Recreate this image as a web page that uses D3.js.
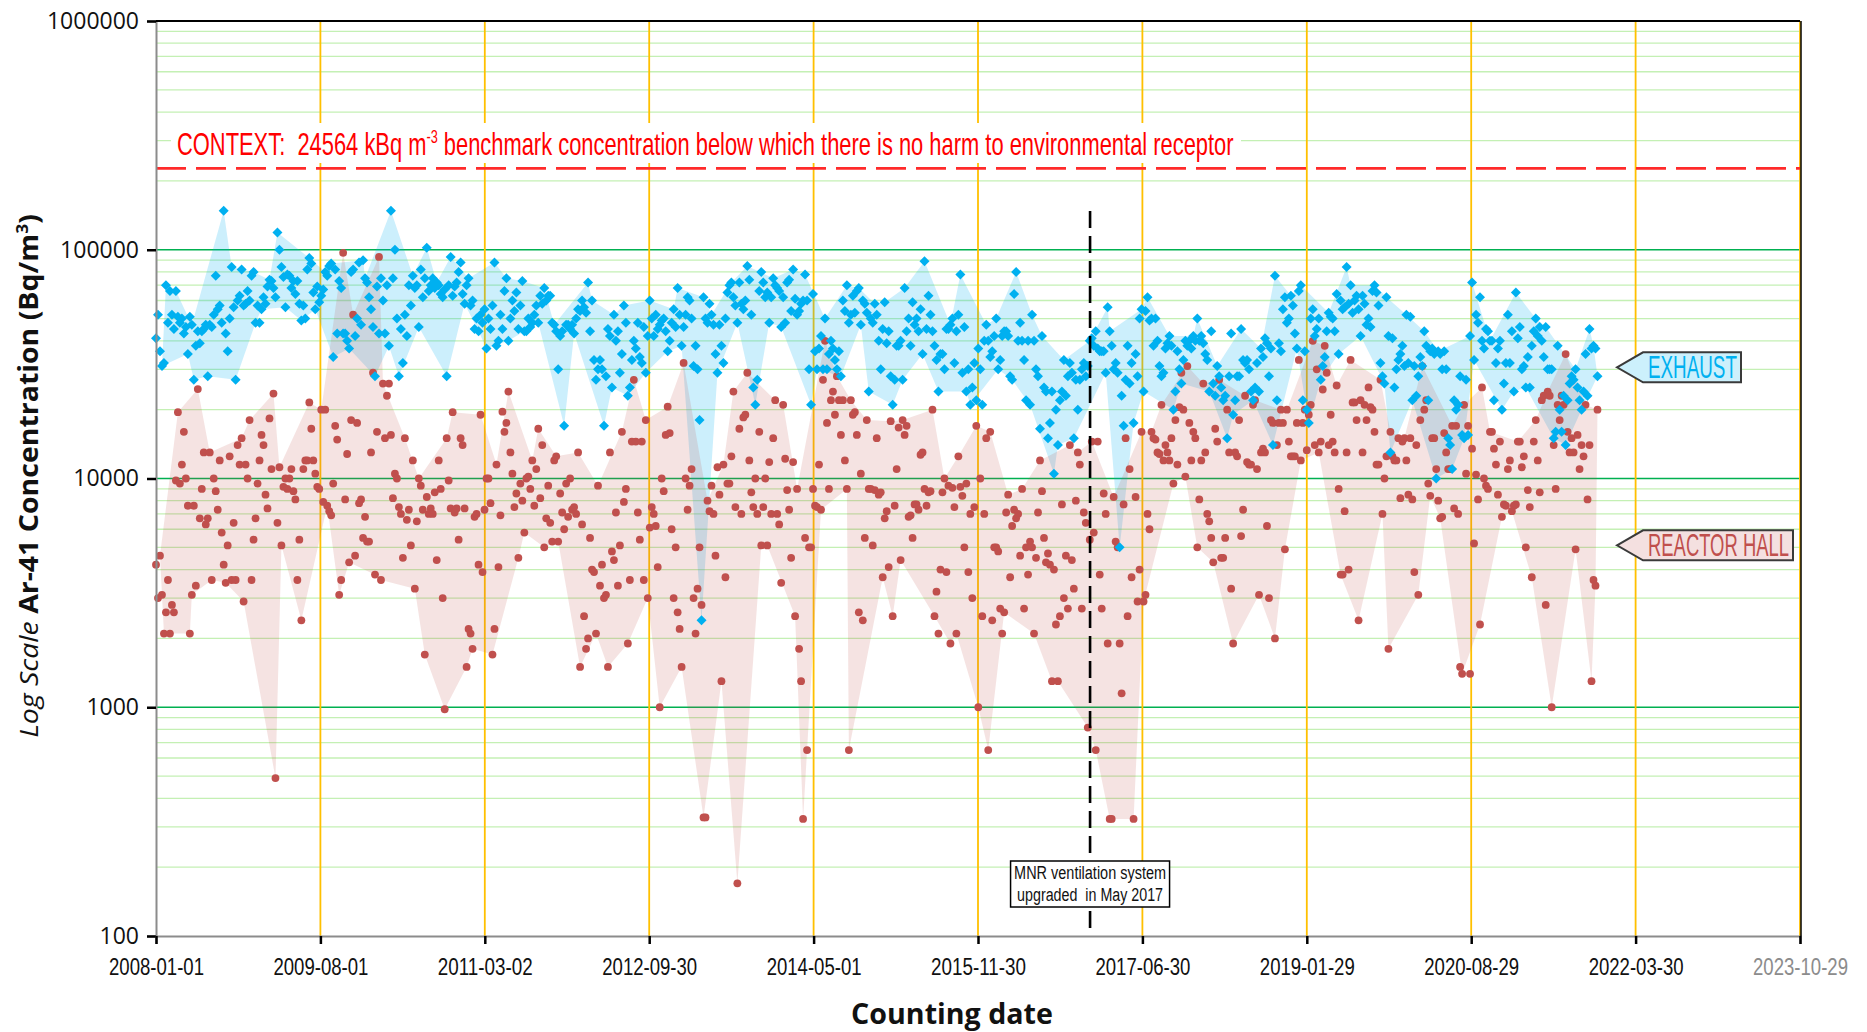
<!DOCTYPE html>
<html>
<head>
<meta charset="utf-8">
<script src="https://cdn.jsdelivr.net/npm/d3@7"></script>
<style>
  body { margin: 0; background: #fff; }
  svg { display: block; }
  text { white-space: pre; }
</style>
</head>
<body>
<div id="chart"></div>
<script>
/* global d3 */

const WIDTH = 1867
const HEIGHT = 1032
const MARGIN = { left: 156, right: 67, top: 21, bottom: 96 }

// x axis tick labels (every 578 days)
const xTickLabels = ['2008-01-01', '2009-08-01', '2011-03-02', '2012-09-30', '2014-05-01',
  '2015-11-30', '2017-06-30', '2019-01-29', '2020-08-29', '2022-03-30', '2023-10-29']
const yDecades = [100, 1000, 10000, 100000, 1000000]

// weekly counts, first one on this date
const firstCount = '2008-01-01'
const countEveryDays = 7

const benchmarkBq = 227000
const upgradeDate = '2016-12-28'
const envelopeMonths = 2

// Ar-41 exhaust concentration, Bq/m3, one value per weekly count
const exhaustBq = [
  // 2008-01 .. 2009-12
  41000, 52000, 36000, 31000, 32000, 70000, 48000, 66000, 52000, 45000,
  66000, 51000, 48000, 50000, 43000, 46000, 35000, 51000, 47000, 27000,
  38000, 44000, 39000, 44000, 45000, 47000, 28000, 47000, 46000, 52000,
  77000, 55000, 57000, 48000, 148000, 43000, 36000, 50000, 84000, 56000,
  27000, 60000, 63000, 82000, 57000, 58000, 66000, 60000, 77000, 80000,
  48000, 57000, 48000, 55000, 62000, 58000, 69000, 74000, 73000, 68000,
  62000, 119000, 100000, 84000, 76000, 56000, 78000, 77000, 68000, 73000,
  64000, 73000, 58000, 49000, 57000, 50000, 82000, 92000, 87000, 65000,
  55000, 69000, 59000, 63000, 67000, 80000, 77000, 85000, 87000, 34000,
  82000, 43000, 73000, 68000, 43000, 43000, 40000, 37000, 80000, 82000,
  42000, 50000, 88000,
  // 2009-12 .. 2011-12
  47000, 90000, 75000, 72000, 62000, 55000, 46000, 28000, 69000, 43000,
  75000, 60000, 43000, 70000, 38000, 148000, 75000, 100000, 50000, 28000,
  45000, 32000, 52000, 42000, 70000, 57000, 77000, 68000, 70000, 46000,
  82000, 62000, 75000, 102000, 66000, 70000, 75000, 68000, 72000, 70000,
  64000, 62000, 67000, 28000, 70000, 93000, 63000, 69000, 72000, 80000,
  88000, 64000, 58000, 70000, 75000, 57000, 60000, 45000, 50000, 44000,
  52000, 48000, 55000, 37000, 50000, 45000, 57000, 88000, 38000, 40000,
  52000, 45000, 66000, 75000, 40000, 50000, 60000, 54000, 65000, 45000,
  57000, 73000, 44000, 44000, 50000, 46000, 48000, 52000, 57000, 48000,
  63000, 58000, 68000, 60000, 63000, 63000, 48000, 47000, 44000, 30000,
  42000, 44000, 17000, 47000, 47000,
  // 2011-12 .. 2013-12
  45000, 47000, 43000, 50000, 55000, 54000, 60000, 56000, 53000, 72000,
  44000, 60000, 33000, 27000, 30000, 33000, 30000, 17000, 28000, 45000,
  42000, 25000, 52000, 40000, 44000, 29000, 35000, 57000, 48000, 23000,
  25000, 33000, 40000, 37000, 48000, 34000, 32000, 46000, 29000, 42000,
  60000, 50000, 42000, 52000, 45000, 47000, 49000, 50000, 44000, 36000,
  40000, 48000, 55000, 46000, 68000, 52000, 38000, 46000, 52000, 62000,
  60000, 50000, 31000, 38000, 30000, 18000, 2400, 62000, 50000, 48000,
  58000, 52000, 47000, 35000, 29000, 47000, 38000, 32000, 50000, 65000,
  70000, 72000, 62000, 57000, 48000, 72000, 58000, 55000, 60000, 85000,
  74000, 52000, 25000, 21000, 27000, 66000, 80000, 72000, 62000, 65000,
  48000, 62000, 75000, 70000, 68000,
  // 2013-12 .. 2015-12
  66000, 46000, 62000, 48000, 72000, 74000, 54000, 82000, 61000, 52000,
  54000, 58000, 60000, 78000, 60000, 30000, 21000, 64000, 36000, 30000,
  37000, 42000, 30000, 50000, 30000, 35000, 40000, 37000, 33000, 30000,
  36000, 28000, 60000, 54000, 70000, 48000, 52000, 63000, 53000, 66000,
  68000, 47000, 60000, 58000, 53000, 24000, 50000, 48000, 58000, 52000,
  40000, 30000, 45000, 59000, 39000, 44000, 28000, 21000, 27000, 38000,
  38000, 40000, 27000, 68000, 44000, 50000, 38000, 59000, 47000, 50000,
  44000, 55000, 35000, 89000, 45000, 63000, 52000, 44000, 38000, 33000,
  24000, 35000, 35000, 30000, 45000, 45000, 47000, 50000, 32000, 44000,
  52000, 78000, 29000, 46000, 24000, 30000, 21000, 25000, 32000, 22000,
  37000, 30000, 21000, 40000, 47000,
  // 2015-12 .. 2017-12
  40000, 34000, 36000, 42000, 50000, 30000, 33000, 42000, 44000, 44000,
  42000, 28000, 27000, 64000, 80000, 40000, 48000, 40000, 33000, 22000,
  40000, 21000, 52000, 40000, 30000, 28000, 16500, 42000, 25000, 24000,
  15000, 17500, 24000, 10500, 20000, 14000, 22000, 24000, 33000, 23000,
  28000, 32000, 29000, 15000, 27000, 20000, 27000, 30000, 32000, 28000,
  31000, 40000, 41000, 38000, 44000, 37000, 36000, 36000, 36000, 29000,
  56000, 44000, 38000, 30000, 32000, 29000, 5000, 23000, 17000, 27000,
  38000, 26000, 32000, 17500, 35000, 28000, 50000, 55000, 24000, 54000,
  62000, 49000, 50000, 38000, 50000, 40000, 31000, 28000, 29000, 37000,
  39000, 42000, 38000, 20000, 24000, 36000, 30000, 26000, 33000, 40000,
  38000, 40000, 37000, 42000, 40000,
  // 2017-12 .. 2020-01
  50000, 40000, 42000, 39000, 35000, 33000, 24000, 44000, 26000, 23000,
  31000, 28000, 25000, 22000, 23000, 15000, 28000, 43000, 19000, 22000,
  28000, 28000, 45000, 33000, 32000, 33000, 30000, 24000, 22000, 25000,
  32000, 24000, 37000, 34000, 41000, 39000, 28000, 37000, 14000, 77000,
  22000, 39000, 36000, 55000, 62000, 48000, 50000, 63000, 57000, 43000,
  37000, 66000, 70000, 22000, 36000, 20000, 17500, 50000, 55000, 42000,
  45000, 50000, 27000, 31000, 34000, 44000, 53000, 51000, 50000, 44000,
  64000, 35000, 60000, 55000, 56000, 84000, 58000, 70000, 53000, 60000,
  63000, 55000, 42000, 63000, 58000, 47000, 50000, 46000, 66000, 70000,
  65000, 57000, 32000, 28000, 26000, 62000, 42000, 13000, 41000, 25000,
  30000, 33000, 35000, 38000, 31000,
  // 2020-01 .. 2021-11
  52000, 32000, 51000, 22000, 31000, 23000, 28000, 34000, 31000, 44000,
  38000, 22000, 36000, 37000, 35000, 10000, 36000, 35000, 30000, 36000,
  30000, 15000, 14000, 11000, 22000, 20000, 21000, 28000, 15500, 15000,
  27000, 15500, 42000, 72000, 33000, 52000, 48000, 62000, 40000, 37000,
  45000, 44000, 40000, 40000, 22000, 32000, 37000, 40000, 20000, 26000,
  32000, 52000, 32000, 44000, 24000, 65000, 41000, 46000, 30000, 31000,
  25000, 34000, 25000, 38000, 44000, 50000, 42000, 46000, 40000, 34000,
  46000, 30000, 30000, 30000, 15000, 16000, 38000, 20000, 16000, 23000,
  14000, 22000, 26000, 28000, 27000, 30000, 25000, 22000, 20000, 24000,
  35000, 23000, 45000, 37000, 38000, 37000, 28000
]

// Ar-41 reactor hall concentration, Bq/m3, same weekly counts
const reactorHallBq = [
  // 2008-01 .. 2009-12
  4200, 3000, 4600, 3100, 2100, 2600, 3600, 2100, 2800, 2600,
  9800, 19500, 9500, 11500, 16000, 10000, 7600, 2100, 3100, 7600,
  3400, 24600, 6700, 9000, 13000, 6300, 6700, 13000, 3600, 10000,
  8800, 7300, 12000, 5800, 4200, 3500, 5100, 12500, 3600, 6400,
  3600, 14000, 11500, 15000, 2900, 11500, 10000, 18000, 3600, 5400,
  6700, 9500, 12000, 15500, 14000, 8500, 7400, 18300, 11000, 23500,
  490, 6400, 11200, 5100, 9200, 10000, 9000, 10000, 11000, 8800,
  8100, 3600, 5400, 2400, 11000, 12000, 12000, 21500, 16500, 12000,
  10500, 9200, 9000, 20000, 7900, 20000, 7600, 7200, 6900, 9500,
  17000, 14800, 3100, 3600, 97000, 8100, 12800, 4300, 18000, 52000,
  4600, 17500, 7800,
  // 2009-12 .. 2011-12
  8100, 5500, 6800, 5300, 5300, 13000, 29000, 3800, 16000, 93000,
  3600, 26000, 15000, 23000, 26000, 15500, 8200, 10500, 10000, 7500,
  7000, 4500, 15000, 6600, 7300, 5100, 12000, 3300, 6500, 10000,
  9300, 7300, 1700, 8300, 7000, 7400, 7000, 8700, 4400, 12000,
  9000, 3000, 980, 15000, 9800, 7400, 19500, 7100, 7400, 5400,
  15000, 14000, 7400, 1500, 2200, 2100, 1800, 6800, 7000, 4200,
  19000, 3900, 7300, 10000, 10000, 7800, 1700, 2200, 11500, 4100,
  6900, 19600, 16000, 17500, 24000, 13000, 10500, 7500, 8600, 4500,
  9500, 8000, 5800, 10000, 10200, 9000, 12000, 7600, 11000, 16500,
  8200, 14000, 5000, 6700, 9300, 6400, 5300, 12000, 12500, 5300,
  8600, 7100, 6000, 9500, 6800,
  // 2011-12 .. 2013-12
  10000, 7300, 7500, 7000, 13000, 1500, 6300, 2500, 1800, 2000,
  5500, 4000, 3900, 2100, 9300, 3400, 4200, 3000, 3100, 1500,
  13000, 4800, 4400, 7100, 3400, 5100, 16000, 7900, 9000, 1900,
  3600, 14500, 27000, 14500, 7100, 5400, 14500, 3600, 18000, 3000,
  6100, 7500, 7000, 6200, 4100, 1000, 10000, 8800, 15500, 20600,
  15800, 6000, 3000, 5000, 2600, 2200, 1500, 32000, 10000, 7300,
  9300, 11000, 3000, 2100, 3300, 5000, 2800, 330, 330, 8000,
  7200, 9300, 7000, 4600, 11200, 8500, 1300, 11500, 3700, 9500,
  9500, 12500, 24000, 7500, 170, 16500, 7000, 18500, 19000, 29000,
  12000, 8700, 7500, 10000, 7000, 16000, 5100, 7500, 10000, 5100,
  11800, 7000, 15000, 22000, 7000,
  // 2013-12 .. 2015-12
  6300, 3500, 21000, 12200, 8900, 7300, 4500, 11800, 2500, 9000,
  1800, 1300, 325, 5500, 650, 5000, 5000, 9000, 7600, 7500,
  11500, 7300, 27000, 40000, 17500, 9000, 22000, 24000, 19000, 28000,
  22000, 15500, 22000, 12000, 9000, 650, 22000, 19000, 19500, 15500,
  2600, 10500, 2400, 5500, 18000, 9000, 9000, 5100, 8900, 15000,
  8500, 8700, 3700, 6700, 7200, 4100, 17800, 2500, 7600, 11000,
  16700, 4400, 18000, 15500, 17000, 6800, 6900, 5500, 7700, 7700,
  7300, 12700, 13000, 9000, 7600, 8700, 8800, 20000, 2500, 3200,
  2100, 4000, 8700, 10000, 3900, 9300, 1900, 9100, 7500, 2100,
  12500, 9200, 8400, 5000, 9500, 3900, 7000, 3000, 7500, 17000,
  1000, 10000, 2500, 7000, 15000,
  // 2015-12 .. 2017-12
  650, 16000, 2400, 5000, 5000, 4800, 2700, 2100, 2600, 7100,
  8500, 3700, 6200, 7300, 6700, 7000, 4600, 9000, 2700, 5000,
  3800, 5300, 5000, 2100, 4500, 7100, 12000, 8800, 5500, 4300,
  4700, 4200, 1300, 4000, 2300, 1300, 2500, 7700, 3000, 4600,
  2700, 14000, 4400, 3300, 8000, 13000, 11500, 2700, 7100, 6400,
  815, 5400, 14500, 5800, 650, 14500, 3800, 2700, 8600, 7000,
  1900, 325, 325, 8300, 5300, 5000, 1900, 1150, 7700, 15000,
  2500, 11000, 3700, 325, 8300, 2900, 4000, 16000, 2900, 3100,
  7000, 6000, 16000, 15000, 14800, 13000, 12800, 21000, 12000, 14000,
  13000, 12000, 15000, 9500, 18000, 11500, 20500, 29000, 20000, 10200,
  31000, 17500, 12000, 16000, 15000,
  // 2017-12 .. 2020-01
  5000, 8100, 12000, 26000, 13000, 7000, 6500, 5500, 4300, 16500,
  14500, 27000, 4500, 4500, 5500, 20000, 13000, 3300, 1900, 13000,
  12500, 18000, 5600, 7300, 23000, 11800, 11500, 11500, 21000, 22000,
  11000, 3100, 13000, 13500, 13000, 6200, 3000, 18000, 17500, 2000,
  14000, 17500, 20000, 17500, 4900, 20000, 14500, 12500, 12500, 12500,
  17500, 33000, 12000, 17500, 20000, 13300, 19000, 21000, 40000, 14000,
  30000, 13000, 14500, 24500, 38000, 29000, 14000, 19000, 14500, 13000,
  25500, 9000, 3800, 3800, 7200, 13000, 4000, 33000, 21500, 21500,
  18000, 2400, 22000, 13000, 21000, 18000, 25000, 20500, 20000, 16000,
  11500, 11500, 27000, 7000, 10000, 12500, 1800, 16000, 12500, 12000,
  12000, 15000, 8200, 14500, 15000,
  // 2020-01 .. 2021-11
  12000, 8500, 15000, 8100, 3900, 14000, 3100, 18000, 31000, 20000,
  22000, 9500, 8400, 15000, 15000, 11000, 8000, 6700, 6800, 15800,
  13000, 11000, 11000, 17000, 7400, 17000, 7000, 1500, 1400, 21000,
  10500, 17000, 1400, 13500, 5200, 10400, 8100, 2300, 25000, 10000,
  9300, 9000, 16000, 16000, 13500, 11500, 8500, 14500, 6800, 7700,
  7600, 11000, 12000, 7200, 7600, 7700, 14500, 14500, 11200, 12500,
  5000, 8900, 7500, 3700, 14500, 18000, 12000, 8700, 22000, 23000,
  2800, 24000, 23000, 1000, 14000, 9000, 21000, 18000, 23000, 21000,
  35000, 16000, 13000, 15000, 13000, 4900, 15500, 11000, 14000, 12500,
  21000, 8100, 14000, 1300, 3600, 3400, 20000
]

const COLORS = {
  exhaust: '#00b0f0',
  exhaustArea: 'rgba(0,176,240,0.20)',
  hall: '#c0504d',
  hallArea: 'rgba(192,80,77,0.16)',
  major: '#00b050',
  minor: '#c4f0b4',
  vgrid: '#ffc000'
}
const NARROW = "'Liberation Sans Narrow', 'Liberation Sans', Arial, sans-serif"
const SANS = "'Open Sans', 'Noto Sans', sans-serif"

const parseDate = d3.utcParse('%Y-%m-%d')
const start = parseDate(firstCount)
const tickDates = xTickLabels.map(parseDate)

const x = d3.scaleUtc()
  .domain([tickDates[0], tickDates[tickDates.length - 1]])
  .range([MARGIN.left, WIDTH - MARGIN.right])
const y = d3.scaleLog()
  .domain([yDecades[0], yDecades[yDecades.length - 1]])
  .range([HEIGHT - MARGIN.bottom, MARGIN.top])

const x0 = x.range()[0], x1 = x.range()[1]
const yTop = y.range()[1], yBottom = y.range()[0]

const svg = d3.select('#chart')
  .append('svg')
  .attr('width', WIDTH)
  .attr('height', HEIGHT)
  .style('background', '#fff')

// squeeze a text horizontally so it takes the given width (condensed look)
function squeeze(text, width) {
  const w = text.node().getBBox().width
  if (w > 0) text.attr('transform', `scale(${width / w},1)`)
}

// weekly points
const toPoints = (values) => values
  .map((v, i) => ({ date: d3.utcDay.offset(start, i * countEveryDays), v }))
  .filter((d) => d.v != null)
const exhaust = toPoints(exhaustBq)
const hall = toPoints(reactorHallBq)

// shaded band: max and min of each period joined up
function envelope(points) {
  const groups = d3.groups(points, (d) =>
    d.date.getUTCFullYear() * 12 + Math.floor(d.date.getUTCMonth() / envelopeMonths))
  const upper = groups.map(([, g]) => d3.greatest(g, (d) => d.v))
  const lower = groups.map(([, g]) => d3.least(g, (d) => d.v))
  return upper.concat(lower.reverse())
}
const line = d3.line().x((d) => x(d.date)).y((d) => y(d.v))

// grid lines
const minorValues = yDecades.slice(0, -1).flatMap((d) => d3.range(2, 10).map((m) => m * d))
svg.append('g')
  .selectAll('line')
  .data(minorValues)
  .join('line')
  .attr('x1', x0).attr('x2', x1)
  .attr('y1', (d) => y(d)).attr('y2', (d) => y(d))
  .attr('stroke', COLORS.minor)
  .attr('stroke-width', 1.3)

svg.append('g')
  .selectAll('line')
  .data(yDecades.slice(1, -1))
  .join('line')
  .attr('x1', x0).attr('x2', x1)
  .attr('y1', (d) => y(d)).attr('y2', (d) => y(d))
  .attr('stroke', COLORS.major)
  .attr('stroke-width', 1.6)

svg.append('g')
  .selectAll('line')
  .data(tickDates.slice(1))
  .join('line')
  .attr('x1', (d) => x(d)).attr('x2', (d) => x(d))
  .attr('y1', yTop).attr('y2', yBottom)
  .attr('stroke', COLORS.vgrid)
  .attr('stroke-width', 1.8)

// bands
svg.append('path')
  .attr('d', line(envelope(exhaust)) + 'Z')
  .attr('fill', COLORS.exhaustArea)
svg.append('path')
  .attr('d', line(envelope(hall)) + 'Z')
  .attr('fill', COLORS.hallArea)

// points
svg.append('g')
  .selectAll('circle')
  .data(hall)
  .join('circle')
  .attr('cx', (d) => x(d.date))
  .attr('cy', (d) => y(d.v))
  .attr('r', 3.9)
  .attr('fill', COLORS.hall)

const diamond = d3.symbol().type(d3.symbolSquare).size(50)
svg.append('g')
  .selectAll('path')
  .data(exhaust)
  .join('path')
  .attr('d', diamond)
  .attr('transform', (d) => `translate(${x(d.date)},${y(d.v)}) rotate(45)`)
  .attr('fill', COLORS.exhaust)

// benchmark context
svg.append('rect')
  .attr('x', 171).attr('y', 123)
  .attr('width', 1070).attr('height', 40)
  .attr('fill', '#fff')
const ctx = svg.append('g').attr('transform', 'translate(177,155)')
const ctxText = ctx.append('text')
  .attr('font-family', NARROW)
  .attr('font-size', 31)
  .attr('fill', '#ff0000')
ctxText.append('tspan').text('CONTEXT:  24564 kBq m')
ctxText.append('tspan').attr('font-size', 18).attr('dy', -12).text('-3')
ctxText.append('tspan').attr('dy', 12)
  .text(' benchmark concentration below which there is no harm to environmental receptor')
squeeze(ctxText, 1057)

svg.append('line')
  .attr('x1', x0).attr('x2', x1)
  .attr('y1', y(benchmarkBq)).attr('y2', y(benchmarkBq))
  .attr('stroke', '#ff2a2a')
  .attr('stroke-width', 2.8)
  .attr('stroke-dasharray', '30,10')

// ventilation upgrade marker
const ux = x(parseDate(upgradeDate))
svg.append('line')
  .attr('x1', ux).attr('x2', ux)
  .attr('y1', 211).attr('y2', yBottom)
  .attr('stroke', '#000')
  .attr('stroke-width', 2.6)
  .attr('stroke-dasharray', '17,8')
svg.append('rect')
  .attr('x', ux - 79.5).attr('y', 861)
  .attr('width', 159).attr('height', 46)
  .attr('fill', '#fff')
  .attr('stroke', '#000')
  .attr('stroke-width', 1.5)
const note = [['MNR ventilation system', 879, 152], ['upgraded  in May 2017', 901, 146]]
note.forEach(([txt, by, w]) => {
  const t = svg.append('g').attr('transform', `translate(${ux},${by})`)
    .append('text')
    .attr('text-anchor', 'middle')
    .attr('font-family', NARROW)
    .attr('font-size', 19)
    .attr('fill', '#111')
    .text(txt)
  squeeze(t, w)
})

// axes
const yAxis = svg.append('g')
  .attr('transform', `translate(${x0},0)`)
  .call(d3.axisLeft(y).tickValues(yDecades).tickFormat(d3.format('d')).tickSize(9).tickPadding(8))
yAxis.select('.domain').attr('stroke', '#8c8c8c').attr('stroke-width', 2)
yAxis.selectAll('.tick line').attr('stroke', '#000').attr('stroke-width', 2.5)
yAxis.selectAll('.tick text')
  .attr('font-family', SANS)
  .attr('font-size', 23)
  .attr('fill', '#111')

const xAxis = svg.append('g')
  .attr('transform', `translate(0,${yBottom})`)
  .call(d3.axisBottom(x).tickValues(tickDates).tickFormat(d3.utcFormat('%Y-%m-%d')).tickSize(8))
xAxis.select('.domain').attr('stroke', '#8c8c8c').attr('stroke-width', 2)
xAxis.selectAll('.tick line').attr('stroke', '#000').attr('stroke-width', 2.5)
xAxis.selectAll('.tick text')
  .attr('font-family', NARROW)
  .attr('font-size', 24)
  .attr('y', 39)
  .attr('dy', 0)
  .attr('fill', (d, i) => i === tickDates.length - 1 ? '#8c8c8c' : '#111')
  .each(function() { squeeze(d3.select(this), 95) })

// frame: top and right borders
svg.append('line')
  .attr('x1', x0).attr('x2', x1).attr('y1', yTop).attr('y2', yTop)
  .attr('stroke', '#000').attr('stroke-width', 2)
svg.append('line')
  .attr('x1', x1 + 1).attr('x2', x1 + 1).attr('y1', yTop).attr('y2', yBottom)
  .attr('stroke', '#000').attr('stroke-width', 1.5)

// axis titles
const yTitle = svg.append('g')
  .attr('transform', 'translate(38,476) rotate(-90)')
  .append('text')
  .attr('text-anchor', 'middle')
  .attr('font-family', SANS)
  .attr('font-size', 26)
  .attr('fill', '#111')
yTitle.append('tspan').attr('font-style', 'italic').text('Log Scale ')
yTitle.append('tspan').attr('font-weight', 'bold').text('Ar-41 Concentration (Bq/m')
yTitle.append('tspan').attr('font-weight', 'bold').attr('font-size', 16).attr('dy', -10).text('3')
yTitle.append('tspan').attr('font-weight', 'bold').attr('dy', 10).text(')')
squeeze(yTitle, 524)

const xTitle = svg.append('g')
  .attr('transform', 'translate(952,1024)')
  .append('text')
  .attr('text-anchor', 'middle')
  .attr('font-family', SANS)
  .attr('font-size', 28)
  .attr('font-weight', 'bold')
  .attr('fill', '#111')
  .text('Counting date')
squeeze(xTitle, 202)

// series call-outs
const callouts = [
  { label: 'EXHAUST', at: 30000, right: 1741, fill: '#ccf0fc', color: COLORS.exhaust },
  { label: 'REACTOR HALL', at: 5000, right: 1793, fill: '#f4e0e0', color: COLORS.hall }
]
callouts.forEach((c) => {
  const cy = y(c.at) - 2
  const tip = 1617, body = 1643, h = 15
  svg.append('path')
    .attr('d', `M${tip},${cy} L${body},${cy - h} L${c.right},${cy - h} L${c.right},${cy + h} L${body},${cy + h} Z`)
    .attr('fill', c.fill)
    .attr('stroke', '#3a3a3a')
    .attr('stroke-width', 2)
  const t = svg.append('g').attr('transform', `translate(1648,${cy + 11})`)
    .append('text')
    .attr('font-family', NARROW)
    .attr('font-size', 31)
    .attr('fill', c.color)
    .text(c.label)
  squeeze(t, c.right - 1652)
})
</script>
</body>
</html>
